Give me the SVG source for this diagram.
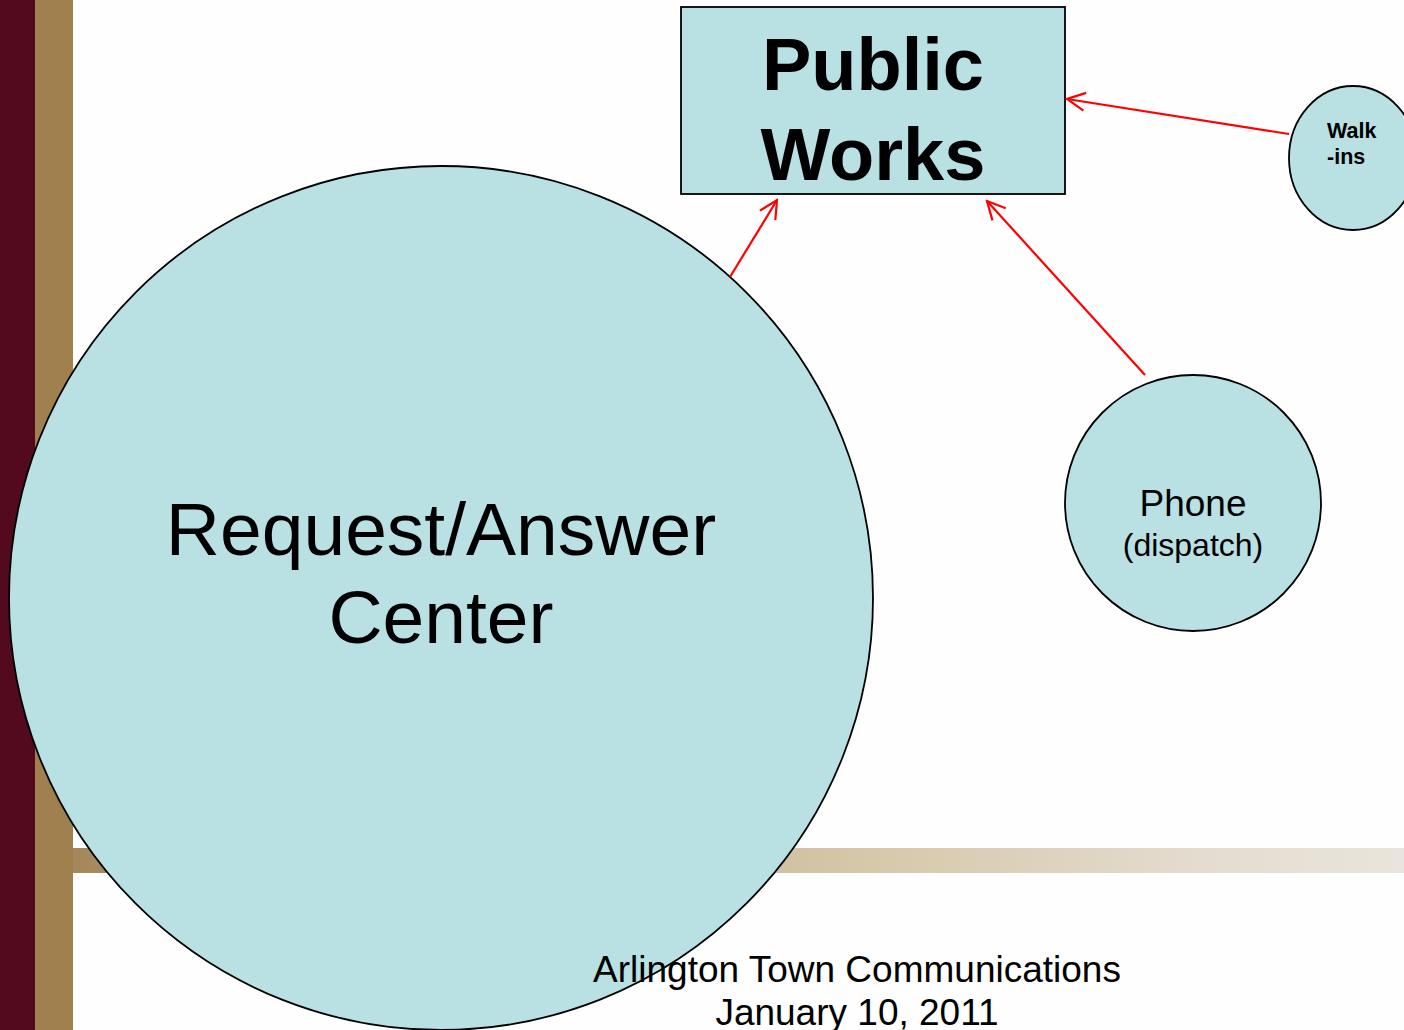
<svg xmlns="http://www.w3.org/2000/svg" width="1404" height="1030" viewBox="0 0 1404 1030">
<style>
.node{fill:#b9e0e3;stroke:#000;stroke-width:1.8}
.t{font-family:"Liberation Sans",Arial,sans-serif;fill:#000;text-anchor:middle}
.s{text-anchor:start}
.b{font-weight:bold}
.conn line{stroke:#ff0000;stroke-width:2.2;fill:none}
</style>
<defs>
<linearGradient id="bar" x1="0" y1="0" x2="1" y2="0">
<stop offset="0" stop-color="#a4885a"/>
<stop offset="0.35" stop-color="#c4b08e"/>
<stop offset="0.6" stop-color="#d6c8aa"/>
<stop offset="0.85" stop-color="#e4dcd0"/>
<stop offset="1" stop-color="#e9e5dc"/>
</linearGradient>
<marker id="arr" viewBox="0 0 22 22" refX="20" refY="11" markerWidth="22" markerHeight="22" markerUnits="userSpaceOnUse" orient="auto">
<path d="M2,2 L20,11 L2,20" fill="none" stroke="#ff0000" stroke-width="2.2"/>
</marker>
</defs>
<g id="background">
<rect x="0" y="0" width="1404" height="1030" fill="#fefefe"/>
<rect x="0" y="0" width="35" height="1030" fill="#540a1e"/>
<rect x="35" y="0" width="38" height="1030" fill="#a0804f"/>
<rect x="73" y="848" width="1331" height="25" fill="url(#bar)"/>
</g>
<g id="request-answer-center">
<ellipse class="node" cx="441" cy="598" rx="432" ry="432"/>
<text class="t" x="441" y="555" font-size="75">Request/Answer</text>
<text class="t" x="441" y="643" font-size="75">Center</text>
</g>
<g id="public-works">
<rect class="node" x="681" y="7" width="384" height="187"/>
<text class="t b" x="873" y="90" font-size="74">Public</text>
<text class="t b" x="873" y="180" font-size="74">Works</text>
</g>
<g id="walk-ins">
<ellipse class="node" cx="1353" cy="158" rx="64" ry="72"/>
<text class="t b s" x="1327" y="138" font-size="21.5">Walk</text>
<text class="t b s" x="1327" y="164" font-size="21.5">-ins</text>
</g>
<g id="phone">
<circle class="node" cx="1193" cy="503" r="128"/>
<text class="t" x="1193" y="516" font-size="37">Phone</text>
<text class="t" x="1193" y="556" font-size="32">(dispatch)</text>
</g>
<g class="conn" id="connectors">
<line x1="730" y1="277" x2="777" y2="200" marker-end="url(#arr)"/>
<line x1="1145" y1="375" x2="987" y2="201" marker-end="url(#arr)"/>
<line x1="1289" y1="134" x2="1067" y2="99" marker-end="url(#arr)"/>
</g>
<g id="footer">
<text class="t" x="857" y="982" font-size="37">Arlington Town Communications</text>
<text class="t" x="857" y="1025" font-size="37">January 10, 2011</text>
</g>
</svg>
